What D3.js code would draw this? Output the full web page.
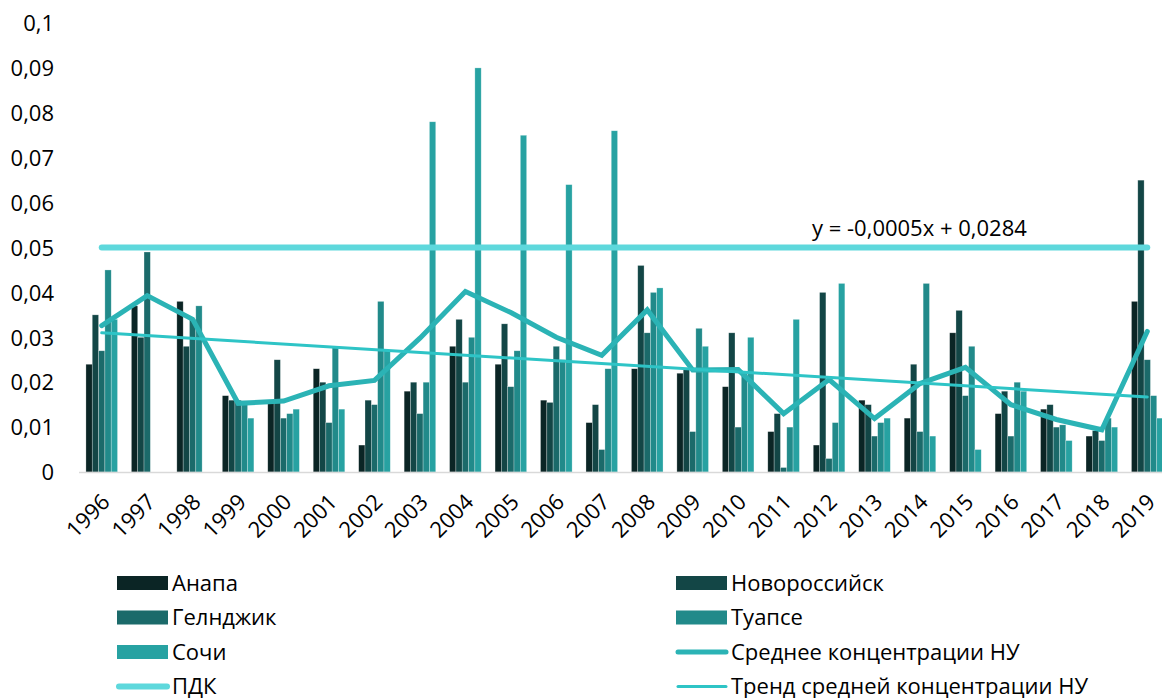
<!DOCTYPE html>
<html>
<head>
<meta charset="utf-8">
<script src="https://cdn.jsdelivr.net/npm/d3@7"></script>
<style>
    body { margin: 0; background: #ffffff; }
    text { font-family: "Open Sans", "Noto Sans", sans-serif; fill: #000000; }
</style>
</head>
<body>
<div id="chart"></div>
<script>

// years on the x axis
let years = ["1996","1997","1998","1999","2000","2001","2002","2003","2004","2005","2006","2007",
    "2008","2009","2010","2011","2012","2013","2014","2015","2016","2017","2018","2019"];

// bar series (null = no measurement)
let anapa = [0.024,0.037,0.038,0.017,0.016,0.023,0.006,0.018,0.028,0.024,0.016,0.011,
    0.023,0.022,0.019,0.009,0.006,0.016,0.012,0.031,0.013,0.014,0.008,0.038];
let novorossiysk = [0.035,0.030,0.028,0.016,0.025,0.020,0.016,0.020,0.034,0.033,0.0155,0.015,
    0.046,0.023,0.031,0.013,0.040,0.015,0.024,0.036,0.018,0.015,0.0092,0.065];
let gelendzhik = [0.027,0.049,0.034,0.016,0.012,0.011,0.015,0.013,0.020,0.019,0.028,0.005,
    0.031,0.009,0.010,0.001,0.003,0.008,0.009,0.017,0.008,0.010,0.007,0.025];
let tuapse = [0.045,null,0.037,0.015,0.013,0.028,0.038,0.020,0.030,0.027,0.025,0.023,
    0.040,0.032,0.022,0.010,0.011,0.011,0.042,0.028,0.020,0.0105,0.012,0.017];
let sochi = [0.034,null,null,0.012,0.014,0.014,0.027,0.078,0.090,0.075,0.064,0.076,
    0.041,0.028,0.030,0.034,0.042,0.012,0.008,0.005,0.018,0.007,0.010,0.012];

// line series
let meanConc = [0.0326,0.0393,0.034,0.0153,0.0158,0.0192,0.0204,0.0298,0.0402,0.0355,0.030,0.026,
    0.0361,0.0227,0.0228,0.013,0.0206,0.0119,0.0197,0.0233,0.0150,0.0117,0.0094,0.0313];
let pdk = 0.05;
let trendEnds = [0.031, 0.0167];   // trend value at first and last year
let trendLabel = "y = -0,0005x + 0,0284";

let yTicks = [0,0.01,0.02,0.03,0.04,0.05,0.06,0.07,0.08,0.09,0.1];

let barSeries = [
    {name: "Анапа", values: anapa, color: "#0b2525"},
    {name: "Новороссийск", values: novorossiysk, color: "#134646"},
    {name: "Гелнджик", values: gelendzhik, color: "#1b6a6a"},
    {name: "Туапсе", values: tuapse, color: "#218a8a"},
    {name: "Сочи", values: sochi, color: "#27a2a2"}
];

let colMean = "#2bb3b5", colPdk = "#5ed8dc", colTrend = "#2ec4c6";

let width = 1162, height = 698;
let fontSize = "22px";

let svg = d3.select("#chart").append("svg")
    .attr("width", width)
    .attr("height", height);

// scales
let x = d3.scaleBand()
    .domain(years)
    .range([79, 1170])
    .paddingInner(0.305)
    .paddingOuter(0.1525);

let xSub = d3.scaleBand()
    .domain(barSeries.map(d => d.name))
    .range([0, x.bandwidth()]);

let y = d3.scaleLinear()
    .domain([0, 0.1])
    .range([472, 23]);

let cx = d => x(d) + x.bandwidth() / 2;

// y axis labels
let yAxis = d3.axisLeft(y)
    .tickValues(yTicks)
    .tickSize(0)
    .tickPadding(0)
    .tickFormat(d => d === 0 ? "0" : String(+d.toFixed(2)).replace(".", ","));

svg.append("g")
    .attr("class", "y-axis")
    .attr("transform", "translate(54,0)")
    .call(yAxis)
    .call(g => g.select(".domain").remove())
    .selectAll("text")
    .style("font-size", fontSize)
    .style("font-family", "'Open Sans', sans-serif")
    .attr("fill", "#000")
    .attr("dy", "0.35em");

// bars
let groups = svg.selectAll(".year")
    .data(years)
    .enter().append("g")
    .attr("class", "year")
    .attr("transform", d => "translate(" + x(d) + ",0)");

groups.selectAll("rect")
    .data((d, i) => barSeries
        .filter(s => s.values[i] !== null)
        .map(s => ({name: s.name, color: s.color, value: s.values[i]})))
    .enter().append("rect")
    .attr("x", d => xSub(d.name))
    .attr("width", xSub.bandwidth())
    .attr("y", d => y(d.value))
    .attr("height", d => y(0) - y(d.value))
    .attr("fill", d => d.color)
    .attr("stroke", "#ffffff")
    .attr("stroke-opacity", 0.45)
    .attr("stroke-width", 0.6);

// category axis line
svg.append("line")
    .attr("x1", 79).attr("x2", width)
    .attr("y1", y(0) + 0.5).attr("y2", y(0) + 0.5)
    .attr("stroke", "#d9d9d9")
    .attr("stroke-width", 1.5);

// year labels
svg.append("g")
    .attr("class", "x-axis")
    .selectAll("text")
    .data(years)
    .enter().append("text")
    .attr("transform", d => "translate(" + (cx(d) + 4) + ",498) rotate(-45)")
    .attr("text-anchor", "end")
    .attr("dy", "0.35em")
    .style("font-size", fontSize)
    .text(d => d);

// ПДК line
svg.append("line")
    .attr("x1", cx(years[0])).attr("x2", cx(years[years.length - 1]))
    .attr("y1", y(pdk)).attr("y2", y(pdk))
    .attr("stroke", colPdk)
    .attr("stroke-width", 6)
    .attr("stroke-linecap", "round");

// mean concentration line
let line = d3.line()
    .x((d, i) => cx(years[i]))
    .y(d => y(d));

svg.append("path")
    .datum(meanConc)
    .attr("fill", "none")
    .attr("stroke", colMean)
    .attr("stroke-width", 5)
    .attr("stroke-linejoin", "miter")
    .attr("stroke-linecap", "round")
    .attr("d", line);

// trend line
svg.append("line")
    .attr("x1", cx(years[0])).attr("x2", cx(years[years.length - 1]))
    .attr("y1", y(trendEnds[0])).attr("y2", y(trendEnds[1]))
    .attr("stroke", colTrend)
    .attr("stroke-width", 3)
    .attr("stroke-linecap", "round");

svg.append("text")
    .attr("x", 812)
    .attr("y", 236)
    .style("font-size", fontSize)
    .text(trendLabel);

// legend
let legendItems = [
    {name: "Анапа", type: "bar", color: barSeries[0].color},
    {name: "Новороссийск", type: "bar", color: barSeries[1].color},
    {name: "Гелнджик", type: "bar", color: barSeries[2].color},
    {name: "Туапсе", type: "bar", color: barSeries[3].color},
    {name: "Сочи", type: "bar", color: barSeries[4].color},
    {name: "Среднее концентрации НУ", type: "line", color: colMean, w: 5},
    {name: "ПДК", type: "line", color: colPdk, w: 6},
    {name: "Тренд средней концентрации НУ", type: "line", color: colTrend, w: 3}
];

let legend = svg.append("g").attr("class", "legend")
    .selectAll("g")
    .data(legendItems)
    .enter().append("g")
    .attr("transform", (d, i) => "translate(" + (i % 2 === 0 ? 117 : 676) + "," + (583 + Math.floor(i / 2) * 34.5) + ")");

legend.filter(d => d.type === "bar").append("rect")
    .attr("x", 0).attr("y", -7)
    .attr("width", 51).attr("height", 14)
    .attr("fill", d => d.color);

legend.filter(d => d.type === "line").append("line")
    .attr("x1", 2).attr("x2", 50)
    .attr("y1", 0).attr("y2", 0)
    .attr("stroke", d => d.color)
    .attr("stroke-width", d => d.w)
    .attr("stroke-linecap", "round");

legend.append("text")
    .attr("x", 55)
    .attr("dy", "0.35em")
    .style("font-size", fontSize)
    .text(d => d.name);

</script>
</body>
</html>
